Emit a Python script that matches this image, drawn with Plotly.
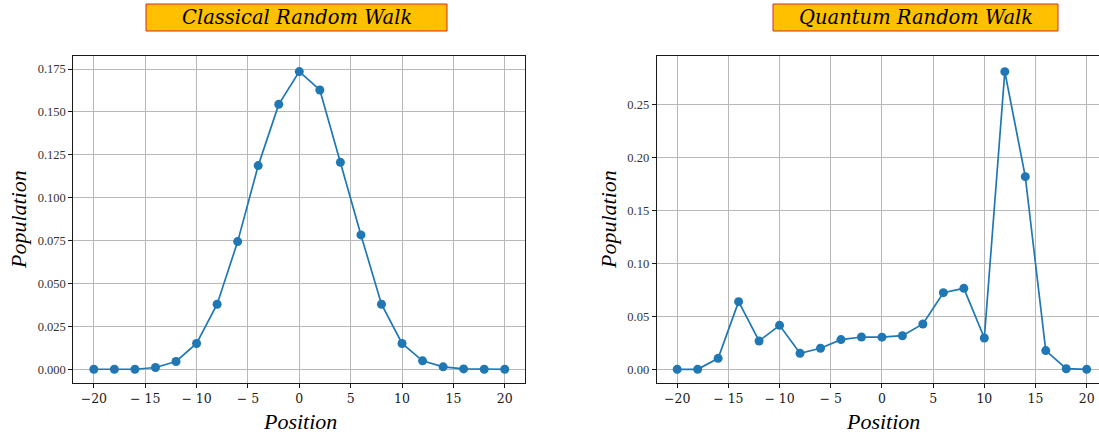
import plotly.graph_objects as go

# Lattice positions visited by the walker
positions = list(range(-20, 21, 2))

# Occupation probability at each position after the walk
classical_population = [
    0.0, 0.0, 0.0, 0.001, 0.0045, 0.015, 0.0379, 0.0744, 0.1187, 0.1544, 0.1735,
    0.1628, 0.1206, 0.0783, 0.0379, 0.015, 0.0049, 0.0014, 0.0002, 0.0, 0.0,
]
quantum_population = [
    0.0, 0.0, 0.0104, 0.064, 0.0268, 0.0416, 0.0151, 0.0199, 0.0281, 0.0306, 0.0304,
    0.0318, 0.0429, 0.0725, 0.0766, 0.0296, 0.2815, 0.1822, 0.0177, 0.0006, 0.0,
]

x_tick_values = [-20, -15, -10, -5, 0, 5, 10, 15, 20]
x_tick_labels = ["\u221220", "\u2212 15", "\u2212 10", "\u2212 5", "0", "5", "10", "15", "20"]
classical_y_ticks = [0.0, 0.025, 0.05, 0.075, 0.1, 0.125, 0.15, 0.175]
classical_y_labels = ["0.000", "0.025", "0.050", "0.075", "0.100", "0.125", "0.150", "0.175"]
quantum_y_ticks = [0.0, 0.05, 0.1, 0.15, 0.2, 0.25]
quantum_y_labels = ["0.00", "0.05", "0.10", "0.15", "0.20", "0.25"]

titles = ["Classical Random Walk", "Quantum Random Walk"]

W, H = 1099, 436
BLUE = "#1f77b4"
GRID = "#b8b8b8"
FRAME = "#1a1a1a"


def px_x(p):
    return p / W


def px_y(p):
    return 1 - p / H


fig = go.Figure()

for i, ys in enumerate([classical_population, quantum_population]):
    suffix = "" if i == 0 else "2"
    fig.add_trace(go.Scatter(
        x=positions, y=ys, mode="lines+markers",
        line=dict(color=BLUE, width=1.7),
        marker=dict(color=BLUE, size=9),
        xaxis="x" + suffix, yaxis="y" + suffix, showlegend=False,
    ))

y_dom = [px_y(383.3), px_y(56)]

common_x = dict(
    tickmode="array", tickvals=x_tick_values, ticktext=x_tick_labels,
    showgrid=True, gridcolor=GRID, gridwidth=1, zeroline=False,
    showline=True, linecolor=FRAME, linewidth=1, mirror=True,
    ticks="outside", ticklen=4, tickcolor=FRAME,
    tickfont=dict(family="DejaVu Serif", size=12.5, color="#1a1a1a"),
)
common_y = dict(
    tickmode="array",
    showgrid=True, gridcolor=GRID, gridwidth=1, zeroline=False,
    showline=True, linecolor=FRAME, linewidth=1,
    ticks="outside", ticklen=4, tickcolor=FRAME,
    tickfont=dict(family="Liberation Serif", size=12.5, color="#333"),
)

fig.update_layout(
    width=W, height=H,
    margin=dict(l=0, r=0, t=0, b=0),
    paper_bgcolor="white", plot_bgcolor="white",
    xaxis=dict(common_x, domain=[px_x(73.3), px_x(525.3)], range=[-22, 22], anchor="y"),
    yaxis=dict(common_y, domain=y_dom, range=[-0.0082, 0.1826], anchor="x",
               tickvals=classical_y_ticks, ticktext=classical_y_labels, mirror=True),
    xaxis2=dict(common_x, domain=[px_x(656.7), 1.0], range=[-22.0, 21.2], anchor="y2"),
    yaxis2=dict(common_y, domain=y_dom, range=[-0.0132, 0.2963], anchor="x2",
                tickvals=quantum_y_ticks, ticktext=quantum_y_labels),
)

# Title badges above each panel
badges = [(146, 447), (773, 1058)]
for (x0, x1), text in zip(badges, titles):
    fig.add_shape(type="rect", xref="paper", yref="paper",
                  x0=px_x(x0), x1=px_x(x1), y0=px_y(31), y1=px_y(4),
                  fillcolor="#FFC000", line=dict(color="#d42a2a", width=1))
    fig.add_annotation(xref="paper", yref="paper",
                       x=px_x((x0 + x1) / 2), y=px_y(17.5),
                       text=text, showarrow=False, xanchor="center", yanchor="middle",
                       font=dict(family="DejaVu Serif", size=19.5, color="black",
                                 style="italic"))

# Axis titles
label_font = dict(family="Liberation Serif", size=22, color="black", style="italic")
for cx in (300, 882.5):
    fig.add_annotation(xref="paper", yref="paper", x=px_x(cx), y=px_y(421),
                       text="Position", showarrow=False,
                       xanchor="center", yanchor="middle", font=label_font)
for cx in (18, 608):
    fig.add_annotation(xref="paper", yref="paper", x=px_x(cx), y=px_y(220),
                       text="Population", showarrow=False, textangle=-90,
                       xanchor="center", yanchor="middle", font=label_font)

fig.write_html("out.html")
